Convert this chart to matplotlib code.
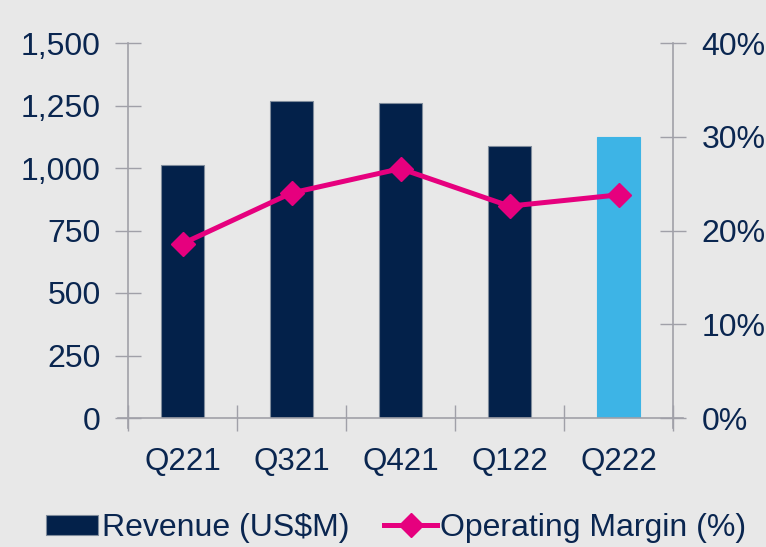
import numpy as np
import matplotlib.pyplot as plt
from matplotlib.ticker import FuncFormatter, FixedLocator

plt.rcParams['font.family'] = ['Liberation Sans', 'DejaVu Sans']

# data
quarters = ['Q221', 'Q321', 'Q421', 'Q122', 'Q222']
revenue = [1012, 1268, 1259, 1087, 1124]
op_margin = [18.6, 24.0, 26.6, 22.6, 23.8]

navy = '#03214A'
light_blue = '#3DB4E6'
magenta = '#E6007E'
grey = '#A0A0A8'
bg = '#E8E8E8'
txt = '#0A2650'

fig = plt.figure(figsize=(7.66, 5.47), dpi=100, facecolor=bg)
ax = fig.add_axes([128/766, 1-418/547, (673-128)/766, (418-43)/547])
ax.set_facecolor(bg)

x = np.arange(len(quarters))
colors = [navy]*(len(quarters)-1) + [light_blue]
edges = ['#7F8C9C']*(len(quarters)-1) + [light_blue]
bars = ax.bar(x, revenue, width=0.4, color=colors, edgecolor=edges, linewidth=0.8, zorder=2)

ax.set_xlim(-0.5, len(quarters)-0.5)
ax.set_ylim(0, 1500)
ax.set_yticks(np.arange(0, 1501, 250))
ax.yaxis.set_major_formatter(FuncFormatter(lambda v, p: f'{int(v):,}'))
ax.set_xticks(x)
ax.set_xticklabels(quarters)
ax.xaxis.set_minor_locator(FixedLocator(np.arange(-0.5, len(quarters), 1.0)))
ax.tick_params(axis='x', which='major', length=0, pad=21, labelsize=22.5, labelcolor=txt)
ax.tick_params(axis='x', which='minor', direction='inout', length=19, width=1, color=grey)
ax.tick_params(axis='y', direction='inout', length=19, width=1, color=grey, pad=10,
               labelsize=23, labelcolor=txt)

for s in ['top', 'right']:
    ax.spines[s].set_visible(False)
for s in ['left', 'bottom']:
    ax.spines[s].set_color(grey)
    ax.spines[s].set_linewidth(1.2)
ax.spines['left'].set_bounds(-40, 1500)
ax.spines['bottom'].set_bounds(-0.59, len(quarters)-0.41)

ax2 = ax.twinx()
ax2.set_ylim(0, 0.40)
ax2.patch.set_visible(False)
line, = ax2.plot(x, np.array(op_margin)/100, color=magenta, lw=3.6, marker='D', ms=12,
                 markeredgecolor=magenta, zorder=3)
ax2.set_yticks(np.arange(0, 0.41, 0.1))
ax2.yaxis.set_major_formatter(FuncFormatter(lambda v, p: f'{v*100:.0f}%'))
ax2.tick_params(axis='y', direction='inout', length=19, width=1, color=grey, pad=11,
                labelsize=23, labelcolor=txt)
for s in ['top', 'left', 'bottom']:
    ax2.spines[s].set_visible(False)
ax2.spines['right'].set_color(grey)
ax2.spines['right'].set_linewidth(1.2)
ax2.spines['right'].set_bounds(-0.0107, 0.40)

leg = fig.legend([bars[0], line], ['Revenue (US$M)', 'Operating Margin (%)'],
                 loc='center', bbox_to_anchor=(0.517, 1-528/547), ncol=2, frameon=False,
                 fontsize=23, handlelength=1.65, handleheight=0.6, handletextpad=0.1,
                 columnspacing=1.1, labelcolor=txt)

fig.savefig('out.png', dpi=100, facecolor=bg)
